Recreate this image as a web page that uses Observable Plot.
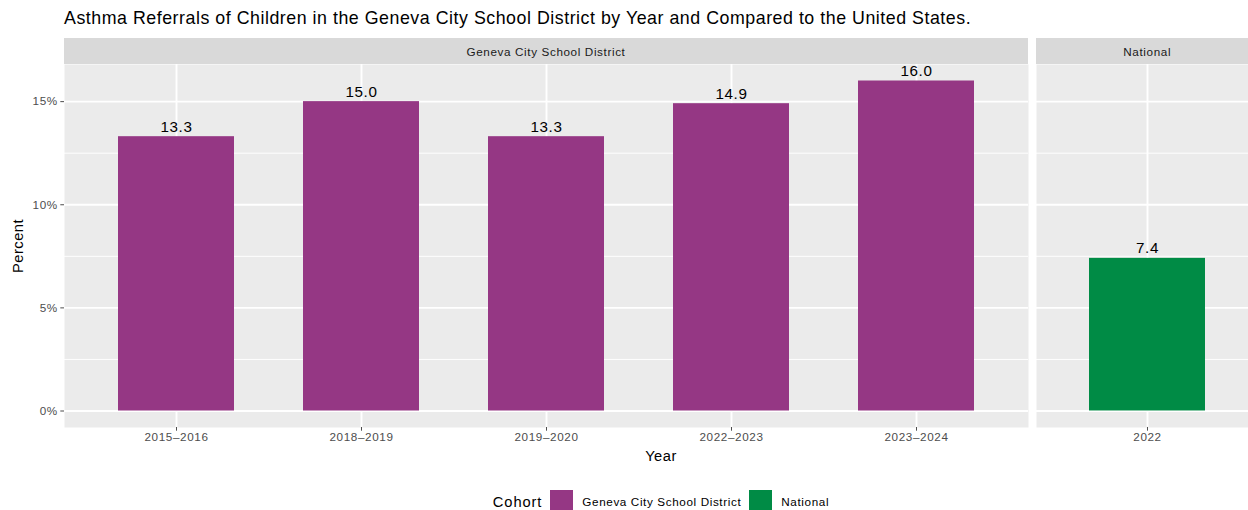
<!DOCTYPE html>
<html>
<head>
<meta charset="utf-8">
<script src="https://cdn.jsdelivr.net/npm/d3@7"></script>
<script src="https://cdn.jsdelivr.net/npm/@observablehq/plot@0.6"></script>
<style>
  html, body { margin: 0; padding: 0; background: #fff; }
  #root { position: relative; width: 1248px; height: 510px; overflow: hidden; font-family: "Liberation Sans", Arial, Helvetica, sans-serif; }
  .abs { position: absolute; }
  .title { left: 64px; top: 8px; font-size: 17.8px; letter-spacing: 0.53px; color: #000; white-space: nowrap; }
  .strip { background: #D9D9D9; height: 26px; top: 38px; font-size: 11.7px; letter-spacing: 0.62px; color: #1A1A1A; display: flex; align-items: center; justify-content: center; white-space: nowrap; }
  .axtitle { font-size: 14.7px; letter-spacing: 0.5px; color: #000; white-space: nowrap; }
  .legend { top: 490px; left: 0; width: 1322px; display: flex; justify-content: center; align-items: center; height: 23px; }
  .legend .lt { font-size: 14.7px; letter-spacing: 0.9px; margin-right: 8px; }
  .legend .key { width: 23px; height: 23px; margin-right: 9px; }
  .legend .lab { font-size: 11.7px; letter-spacing: 0.62px; margin-right: 8px; }
  .legend .lab.last { margin-right: 0; }
</style>
</head>
<body>
<div id="root"></div>
<script>
// ---- data ----
const districtYears = ["2015–2016", "2018–2019", "2019–2020", "2022–2023", "2023–2024"];
const districtValues = [13.3, 15.0, 13.3, 14.9, 16.0];
const nationalYears = ["2022"];
const nationalValues = [7.4];
const cohorts = ["Geneva City School District", "National"];
const cohortColors = ["#953784", "#008B45"];
const yTicks = [0, 5, 10, 15];
const yMinorTicks = [2.5, 7.5, 12.5];
const titleText = "Asthma Referrals of Children in the Geneva City School District by Year and Compared to the United States.";

const root = document.getElementById("root");
const add = (html) => root.insertAdjacentHTML("beforeend", html);

const yDomain = [-0.8, 16.8];
const PANEL_TOP = 64, PANEL_BOTTOM = 427;
const STEP = 964 / 5.2;

function panel(years, values, cohortIdx, width, marginLeft, showY) {
  const data = years.map((y, i) => ({year: y, value: values[i], cohort: cohorts[cohortIdx]}));
  const marks = [
    Plot.frame({fill: "#EBEBEB", stroke: null}),
    Plot.ruleY(yMinorTicks, {stroke: "#fff", strokeWidth: 0.95}),
    Plot.ruleY(yTicks, {stroke: "#fff", strokeWidth: 1.9}),
    Plot.ruleX(years, {x: d => d, stroke: "#fff", strokeWidth: 1.9}),
    Plot.barY(data, {x: "year", y: "value", fill: "cohort"}),
    Plot.text(data, {x: "year", y: "value", text: d => d.value.toFixed(1), lineAnchor: "bottom", dy: -5, fontSize: 15.2, fill: "#000", clip: true, style: {letterSpacing: "0.2px"}}),
    Plot.axisX({tickSize: 3.7, tickPadding: 1.5, fontSize: 11.7, color: "#4D4D4D", label: null})
  ];
  if (showY) {
    marks.push(Plot.axisY({ticks: yTicks, tickFormat: d => d + "%", tickSize: 3.7, tickPadding: 3, fontSize: 11.7, color: "#4D4D4D", label: null}));
  }
  return Plot.plot({
    width, height: 470,
    marginTop: PANEL_TOP, marginBottom: 470 - PANEL_BOTTOM, marginLeft, marginRight: 0,
    style: {fontFamily: "'Liberation Sans', Arial, sans-serif", background: "transparent", overflow: "visible", letterSpacing: "0.62px"},
    x: {type: "band", domain: years, paddingInner: 0.375, paddingOuter: 0.2875, axis: null},
    y: {domain: yDomain, axis: null},
    color: {domain: cohorts, range: cohortColors},
    marks
  });
}

const p1 = panel(districtYears, districtValues, 0, 64 + 964, 64, true);
p1.style.position = "absolute"; p1.style.left = "0px"; p1.style.top = "0px";
root.appendChild(p1);

const w2 = STEP * 1.2;
const p2 = panel(nationalYears, nationalValues, 1, w2, 0, false);
p2.style.position = "absolute"; p2.style.left = "1036px"; p2.style.top = "0px";
root.appendChild(p2);

add(`<div class="abs title">${titleText}</div>`);
add(`<div class="abs strip" style="left:64px;width:964px">${cohorts[0]}</div>`);
add(`<div class="abs strip" style="left:1036px;width:${w2}px">${cohorts[1]}</div>`);
add(`<div class="abs axtitle" style="left:661px;top:448px;transform:translateX(-50%)">Year</div>`);
add(`<div class="abs axtitle" style="left:18px;top:245.5px;transform:translate(-50%,-50%) rotate(-90deg)">Percent</div>`);
add(`<div class="abs legend"><span class="lt">Cohort</span>` +
  cohorts.map((c, i) => `<span class="key" style="background:${cohortColors[i]}"></span><span class="lab${i === cohorts.length - 1 ? " last" : ""}">${c}</span>`).join("") +
  `</div>`);
</script>
</body>
</html>
